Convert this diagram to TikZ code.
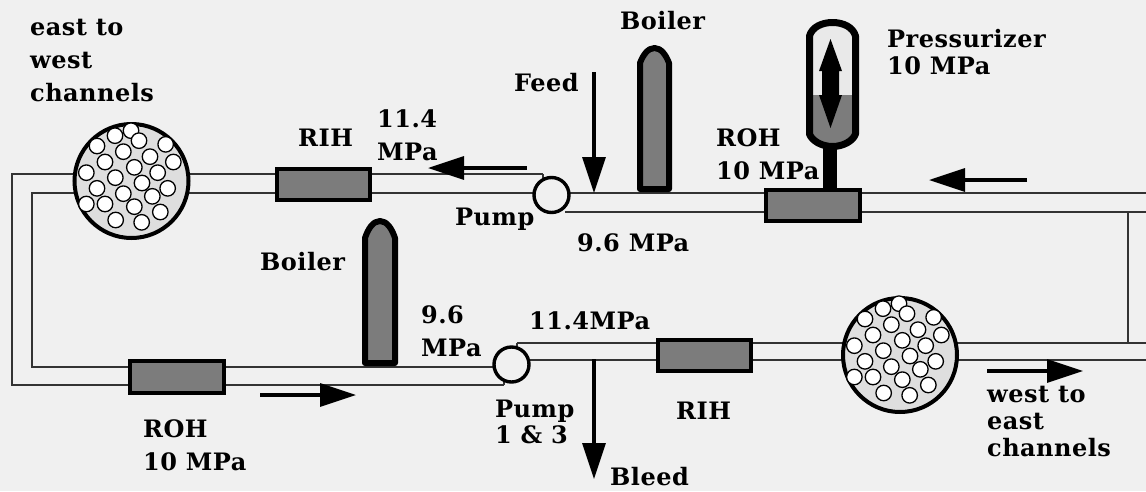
\documentclass[tikz,border=0pt]{standalone}
\usepackage{fontspec}
\setmainfont{DejaVu Serif}[BoldFont={DejaVu Serif Bold},LetterSpace=2.0]
\usetikzlibrary{arrows.meta}
\definecolor{bgc}{HTML}{F0F0F0}
\definecolor{steelc}{HTML}{7C7C7C}
\definecolor{corec}{HTML}{DEDEDE}
\definecolor{pipec}{HTML}{333333}
\tikzset{
  x=1pt,y=-1pt,
  pipe/.style={draw=pipec,line width=1.3pt},
  header/.style={draw=black,fill=steelc,line width=3.6pt,minimum width=93.5pt,minimum height=31.5pt,inner sep=0pt},
  pumpc/.style={circle,draw=black,fill=bgc,line width=3.4pt,minimum size=35pt,inner sep=0pt},
  vessel/.style={draw=black,fill=steelc,line width=6pt,line join=round},
  flow/.style={line width=3.4pt,-{Triangle[length=36pt,width=23pt]}},
  lbl/.style={anchor=base west,inner sep=0pt,align=left,font=\fontsize{24}{#1}\selectfont\bfseries},
  lbl/.default=33,
  core/.style={circle,draw=black,fill=corec,line width=4pt,minimum size=114pt,inner sep=0pt},
  fuel/.style={circle,draw=black,fill=white,line width=1.3pt,minimum size=15.5pt,inner sep=0pt}
}
\newcommand{\fuelset}[3]{%
  \foreach \fuelx/\fuely [count=\fuelk] in {393/392,345/407,417/422,497/433,291/438,370/455,450/470,520/486,315/486,403/502,259/518,473/518,346/533,426/549,291/565,503/565,370/581,457/589,259/612,315/612,403/620,481/636,347/660,425/667}{
    \node[fuel] (#1\fuelk) at ({\fuelx/3+#2},{\fuely/3+#3}) {};
  }}
\begin{document}
\begin{tikzpicture}
\useasboundingbox (0,0) rectangle (1146,491);
\fill[bgc] (0,0) rectangle (1146,491);
% pipe end points
\coordinate (a1) at (12,174); \coordinate (a2) at (543,174);
\coordinate (b1) at (32,193); \coordinate (b2) at (535,193);
\coordinate (c1) at (12,385); \coordinate (c2) at (504,385);
\coordinate (d1) at (32,367); \coordinate (d2) at (495,367);
\coordinate (e1) at (565,193); \coordinate (e2) at (1146,193);
\coordinate (f1) at (565,212); \coordinate (f2) at (1128,212); \coordinate (f3) at (1146,212);
\coordinate (g1) at (517,343); \coordinate (g2) at (1128,343); \coordinate (g3) at (1146,343);
\coordinate (h1) at (525,360); \coordinate (h2) at (1146,360);
\draw[pipe] (a2) -- (a1) -- (c1) -- (c2);
\draw[pipe] (b2) -- (b1) -- (d1) -- (d2);
\draw[pipe] (e1) -- (e2);
\draw[pipe] (f1) -- (f3);
\draw[pipe] (f2) -- (g2);
\draw[pipe] (g1) -- (g3);
\draw[pipe] (g1) -- ++(0,5);
\draw[pipe] (a2) -- ++(0,5);
\draw[pipe] (h1) -- (h2);
\draw[pipe] (c2) -- ++(0,-4);
% reactors
\node[core] (coreW) at (131.5,181) {};
\fuelset{w}{0}{0}
\node[core] (coreE) at (900,355) {};
\fuelset{e}{768}{173}
% headers
\node[header] (rih1) at (323.5,184.5) {};
\node[header] (roh1) at (813,205.5) {};
\node[header] (roh2) at (177,377) {};
\node[header] (rih2) at (704.5,355.5) {};
% pumps
\node[pumpc] (pump1) at (551.5,195) {};
\node[pumpc] (pump2) at (511.5,364.5) {};
% boilers
\draw[vessel] (640,189) -- (640,63) .. controls (643,55) and (648,48) .. (654.5,48) .. controls (661,48) and (666,55) .. (669,63) -- (669,189) -- cycle;
\draw[vessel] (365,363) -- (365,238) .. controls (368,229) and (373,221) .. (380,221) .. controls (387,221) and (392,229) .. (395,238) -- (395,363) -- cycle;
% pressurizer
\fill[black] (823,146) rectangle (837,190);
\begin{scope}
\clip (809.5,36) .. controls (812,27) and (822,22.5) .. (832.5,22.5) .. controls (843,22.5) and (853,27) .. (855.5,36) -- (855.5,134) .. controls (853,141) and (843,146.5) .. (832.5,146.5) .. controls (822,146.5) and (812,141) .. (809.5,134) -- cycle;
\fill[corec!40!bgc] (800,15) rectangle (865,95);
\fill[steelc] (800,95) rectangle (865,150);
\end{scope}
\draw[line width=7pt,line join=round] (809.5,36) .. controls (812,27) and (822,22.5) .. (832.5,22.5) .. controls (843,22.5) and (853,27) .. (855.5,36) -- (855.5,134) .. controls (853,141) and (843,146.5) .. (832.5,146.5) .. controls (822,146.5) and (812,141) .. (809.5,134) -- cycle;
\fill[black] (830.5,39) -- (842,71) -- (839,71) -- (839,95) -- (842,95) -- (830.5,128) -- (819,95) -- (822,95) -- (822,71) -- (819,71) -- cycle;
% flow arrows
\coordinate (feedS) at (594,72); \coordinate (feedE) at (594,193);
\coordinate (bleedS) at (594,359); \coordinate (bleedE) at (594,479);
\coordinate (fa1) at (527,168); \coordinate (fa2) at (428,168);
\coordinate (fb1) at (1027,180); \coordinate (fb2) at (929,180);
\coordinate (fc1) at (260,395); \coordinate (fc2) at (356,395);
\coordinate (fd1) at (987,371); \coordinate (fd2) at (1083,371);
\draw[flow] (feedS) -- (feedE);
\draw[flow] (bleedS) -- (bleedE);
\draw[flow] (fa1) -- (fa2);
\draw[flow] (fb1) -- (fb2);
\draw[flow] (fc1) -- (fc2);
\draw[flow] (fd1) -- (fd2);
% labels
\node[lbl] (t1) at (30,101) {east to\\west\\channels};
\node[lbl] (t2) at (620,29) {Boiler};
\node[lbl] (t3) at (514,91) {Feed};
\node[lbl=27] (t4) at (887,74) {Pressurizer\\10 MPa};
\node[lbl] (t5) at (716,179) {ROH\\10 MPa};
\node[lbl] (t6) at (298,146) {RIH};
\node[lbl] (t7) at (377,160) {11.4\\MPa};
\node[lbl] (t8) at (455,225) {Pump};
\node[lbl] (t9) at (577,251) {9.6 MPa};
\node[lbl] (t10) at (260,270) {Boiler};
\node[lbl] (t11) at (421,356) {9.6\\MPa};
\node[lbl] (t12) at (529,329) {11.4MPa};
\node[lbl=26] (t13) at (495,443) {Pump\\1 \& 3};
\node[lbl] (t14) at (610,485) {Bleed};
\node[lbl] (t15) at (676,419) {RIH};
\node[lbl] (t16) at (143,470) {ROH\\10 MPa};
\node[lbl=27] (t17) at (987,456) {west to\\east\\channels};
\end{tikzpicture}
\end{document}
